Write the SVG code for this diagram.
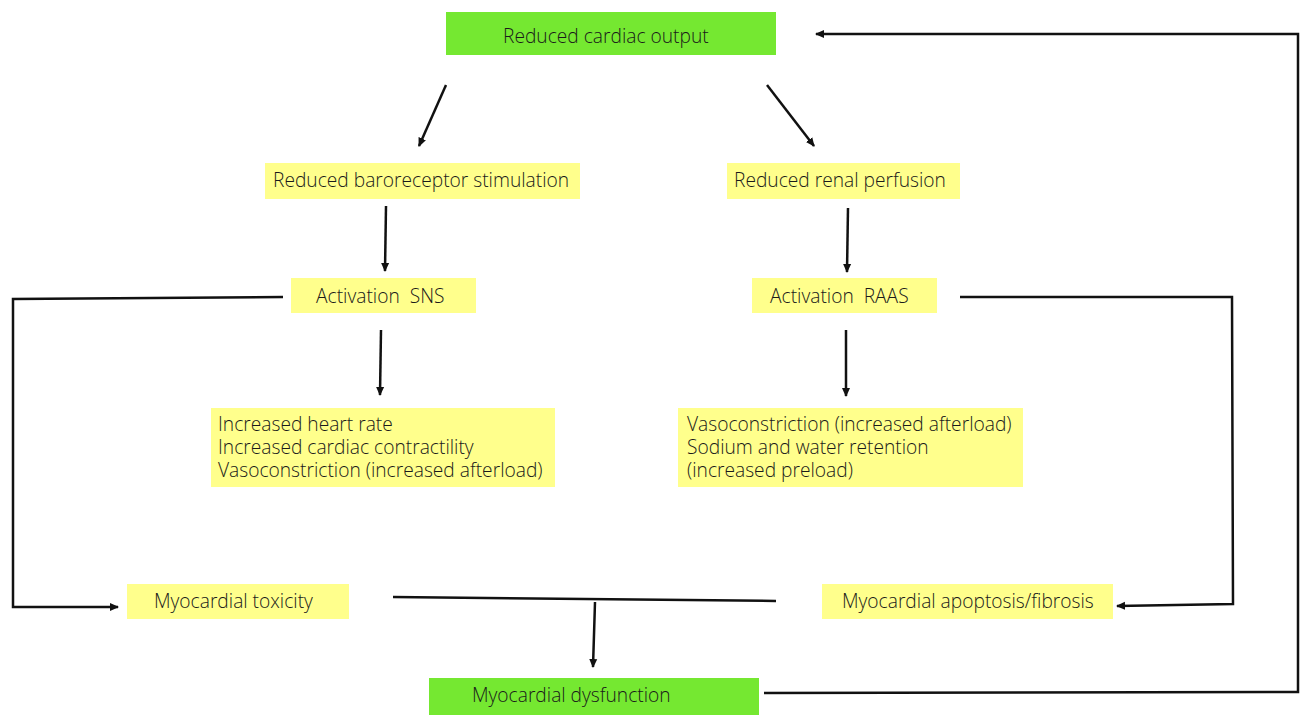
<svg xmlns="http://www.w3.org/2000/svg" width="1303" height="715" viewBox="0 0 1303 715">
<defs>
<style>
.g{fill:#75E831}
.y{fill:#FFFF8C}
text{font-family:"Open Sans","Noto Sans",sans-serif;font-size:19.2px;font-weight:300;fill:#1a1a1a;white-space:pre}
.c{fill:none;stroke:#111;stroke-width:2.5}
</style>
<marker id="ah" markerWidth="10" markerHeight="10" refX="8" refY="5" orient="auto" markerUnits="userSpaceOnUse">
<path d="M0,1 L9,5 L0,9 Z" fill="#111"/>
</marker>
</defs>
<rect width="1303" height="715" fill="#fff"/>
<g id="n-rco"><rect class="g" x="446" y="12" width="330" height="43"/><text x="503" y="43">Reduced cardiac output</text></g>
<g id="n-rbs"><rect class="y" x="265" y="163" width="315" height="36"/><text x="273" y="187">Reduced baroreceptor stimulation</text></g>
<g id="n-rrp"><rect class="y" x="727" y="163" width="233" height="36"/><text x="734" y="187">Reduced renal perfusion</text></g>
<g id="n-sns"><rect class="y" x="291" y="278" width="185" height="35"/><text x="316" y="303">Activation  SNS</text></g>
<g id="n-raas"><rect class="y" x="752" y="278" width="185" height="35"/><text x="770" y="303">Activation  RAAS</text></g>
<g id="n-snsfx"><rect class="y" x="211" y="408" width="344" height="79"/><text x="218" y="431"><tspan x="218" y="431">Increased heart rate</tspan><tspan x="218" y="454">Increased cardiac contractility</tspan><tspan x="218" y="477">Vasoconstriction (increased afterload)</tspan></text></g>
<g id="n-raasfx"><rect class="y" x="678" y="408" width="345" height="79"/><text x="687" y="431"><tspan x="687" y="431">Vasoconstriction (increased afterload)</tspan><tspan x="687" y="454">Sodium and water retention</tspan><tspan x="687" y="477">(increased preload)</tspan></text></g>
<g id="n-tox"><rect class="y" x="127" y="584" width="222" height="35"/><text x="154" y="608">Myocardial toxicity</text></g>
<g id="n-apo"><rect class="y" x="822" y="584" width="291" height="35"/><text x="842" y="608">Myocardial apoptosis/fibrosis</text></g>
<g id="n-dys"><rect class="g" x="429" y="678" width="330" height="37"/><text x="472" y="702">Myocardial dysfunction</text></g>
<g id="connectors">
<path class="c" d="M446,85 L419,146" marker-end="url(#ah)"/>
<path class="c" d="M767,85 L814,146" marker-end="url(#ah)"/>
<path class="c" d="M386,206 L385,271" marker-end="url(#ah)"/>
<path class="c" d="M848,208 L847,272" marker-end="url(#ah)"/>
<path class="c" d="M381,330 L380,395" marker-end="url(#ah)"/>
<path class="c" d="M846,330 L846,396" marker-end="url(#ah)"/>
<path class="c" d="M283,297 L13,299 L13,607 L118,607" marker-end="url(#ah)"/>
<path class="c" d="M960,297 L1232,297 L1233,604 L1117,606" marker-end="url(#ah)"/>
<path class="c" d="M393,597 L776,601"/>
<path class="c" d="M595,602 L593,667" marker-end="url(#ah)"/>
<path class="c" d="M764,693 L1298,692 L1298,34 L816,34" marker-end="url(#ah)"/>
</g>
</svg>
